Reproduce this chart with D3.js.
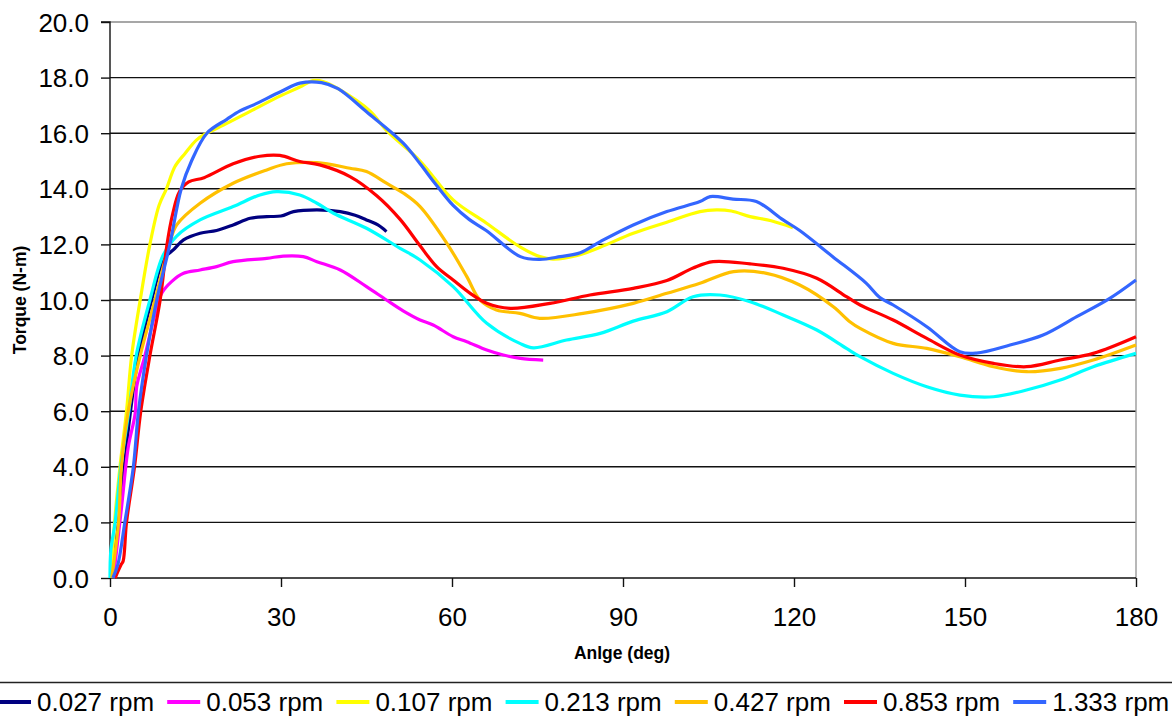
<!DOCTYPE html>
<html><head><meta charset="utf-8">
<script src="https://cdnjs.cloudflare.com/ajax/libs/d3/7.8.5/d3.min.js"></script>
<style>body{margin:0;background:#fff}svg{display:block}text{font-family:"Liberation Sans",Arial,sans-serif}</style>
</head><body>
<script>
const seriesNames = ["0.027 rpm","0.053 rpm","0.107 rpm","0.213 rpm","0.427 rpm","0.853 rpm","1.333 rpm"];
const seriesColors = ["#000080","#FF00FF","#FFFF00","#00FFFF","#FFC000","#FF0000","#3366FF"];
const xTicks = [0,30,60,90,120,150,180];
const yTicks = [0,2,4,6,8,10,12,14,16,18,20];

const ang027 = [0.3,1.5,2.5,3.6,5.0,7.3,9.5,11.1,12.9,15.8,18.7,21.6,24.6,27.5,30.0,32.2,36.3,40.4,43.0,45.0,47.0,48.5];
const tq027  = [0,2,4,6,8,10,11.5,11.8,12.16,12.4,12.5,12.7,12.94,13.0,13.02,13.18,13.24,13.18,13.05,12.88,12.7,12.46];

const ang053 = [0.6,2.0,3.2,4.4,4.7,6.1,7.9,9.1,10.8,12.9,15.8,18.7,21.6,27.5,30.4,33.9,36.3,40.4,45.0,48.5,51.5,54.4,56.7,60.2,62.6,66.1,69.0,72.0,76.0];
const tq053  = [0,2.5,4.7,5.9,6.9,7.97,9.5,10.25,10.66,10.96,11.08,11.2,11.38,11.5,11.58,11.56,11.38,11.08,10.48,10.0,9.6,9.28,9.1,8.68,8.5,8.2,8.02,7.9,7.84];

const ang107 = [0.2,0.8,1.75,2.9,3.8,5.3,7.0,8.6,9.9,11.4,13.2,15.2,17.0,20,25,30,33.3,35.6,37.5,40,45.6,48.5,54.4,60.2,66,72,75.4,77.7,82,86,91.8,97.7,103.5,106.4,109,112.3,116,119.8];
const tq107  = [0,2,4,6,8,10,12,13.4,14.0,14.8,15.28,15.76,16.0,16.3,16.83,17.35,17.66,17.89,17.85,17.6,16.8,16.1,15.0,13.6,12.77,11.9,11.56,11.47,11.6,11.9,12.4,12.8,13.18,13.24,13.2,13.0,12.85,12.6];

const ang213 = [0,0.15,0.9,1.9,3.3,4.6,7.0,9.3,11.7,15.8,21.6,26.3,29.2,33.3,36.3,39.2,45,50.9,54.4,60.2,66.1,71.9,74.3,80.1,86,91.8,97.7,102.3,107,112.3,118.1,124,129.2,131.6,137.4,143.3,149.1,155,160.8,166.7,172.5,180];
const tq213  = [0,1.0,2,4,6,8,10,11.6,12.3,12.88,13.36,13.78,13.9,13.78,13.48,13.12,12.58,11.86,11.44,10.48,9.16,8.44,8.28,8.56,8.8,9.24,9.58,10.12,10.18,9.94,9.46,8.92,8.26,7.96,7.36,6.88,6.58,6.52,6.76,7.12,7.6,8.08];

const ang427 = [0.3,1.5,2.0,3.2,5.3,7.9,10.4,11.7,15.8,21.6,27.5,31.0,36.3,42.1,45.0,48.5,51.5,54.4,59.1,62.6,64.9,67.8,71.9,75.4,83.0,91.8,97.7,103.5,109.4,115.2,121.0,126.9,129.8,131.6,137.4,143.3,149.1,155.0,160.8,166.7,172.5,180];
const tq427  = [0,2,4,6,8,10,12,12.7,13.48,14.2,14.68,14.9,14.94,14.74,14.62,14.2,13.84,13.36,12.04,10.84,10.0,9.64,9.52,9.34,9.52,9.88,10.24,10.6,11.02,10.96,10.54,9.76,9.22,8.98,8.44,8.26,7.96,7.6,7.42,7.54,7.84,8.38];

const ang853 = [0.9,2.0,2.3,2.9,4.3,5.4,7.0,8.8,10.0,11.0,12.2,13.8,16.5,21.6,26.3,29.8,33.3,36.8,42.1,46.8,50.9,54.4,57.3,60.2,63.2,66.1,70.2,77.2,84.2,91.8,97.7,102.3,105.8,112.3,118.1,124,129.2,131.6,137.4,143.3,149.1,155,160.8,166.7,172.5,180];
const tq853  = [0,0.5,0.6,2,4,6,8,10,12,13.1,13.9,14.25,14.4,14.9,15.17,15.2,14.98,14.86,14.44,13.75,12.9,11.95,11.2,10.72,10.24,9.88,9.7,9.88,10.18,10.42,10.7,11.15,11.38,11.3,11.14,10.78,10.12,9.82,9.28,8.62,8.02,7.72,7.6,7.84,8.08,8.68];

const ang1333 = [0.5,1.4,2.6,4.1,5.0,6.4,8.2,10.5,12.5,14.3,17.0,20.5,22.8,25,30,33.3,37.1,40,45,51.4,54.4,57,60.2,63,66,72,75.4,79,82.5,86,91.8,97.7,103.5,105.3,109.3,113.4,118.1,121,126.8,132.7,135,137.4,143.3,149.1,152,157.9,163.7,169.6,175.4,180];
const tq1333  = [0,0.5,2,4,6,8,10,12,14,15,16,16.5,16.8,17.0,17.5,17.8,17.82,17.6,16.77,15.65,14.9,14.2,13.4,12.9,12.5,11.56,11.46,11.56,11.7,12.1,12.7,13.18,13.54,13.72,13.63,13.54,12.88,12.5,11.56,10.6,10.1,9.82,9.04,8.14,8.09,8.38,8.74,9.4,10.06,10.72];

const seriesAngles = [ang027,ang053,ang107,ang213,ang427,ang853,ang1333];
const seriesTorques = [tq027,tq053,tq107,tq213,tq427,tq853,tq1333];

const W = 1172, H = 719;
const L = 110, R = 1136, T = 22, B = 578;
const svg = d3.select("body").append("svg").attr("width", W).attr("height", H);
const x = d3.scaleLinear().domain([0,180]).range([L,R]);
const y = d3.scaleLinear().domain([0,20]).range([B,T]);

// gridlines
svg.append("g").selectAll("line").data(yTicks.filter(v=>v>0)).join("line")
  .attr("x1", L).attr("x2", R).attr("y1", d=>y(d)).attr("y2", d=>y(d))
  .attr("stroke", d=> d===20 ? "#8a8a8a" : "#111").attr("stroke-width", 1.4);
// right border
svg.append("line").attr("x1", R).attr("x2", R).attr("y1", T).attr("y2", B)
  .attr("stroke", "#9a9a9a").attr("stroke-width", 1.4);

// y axis
const yAxis = d3.axisLeft(y).tickValues(yTicks).tickSize(9).tickFormat(d3.format(".1f"));
const gy = svg.append("g").attr("transform", `translate(${L},0)`).call(yAxis);
gy.select(".domain").attr("stroke", "#111").attr("stroke-width", 1.4).attr("d", `M-9,${T}H0V${B}`);
gy.selectAll(".tick line").attr("stroke", "#111").attr("stroke-width", 1.4);
gy.selectAll(".tick text").attr("font-size", 26).attr("fill", "#000")
  .attr("font-family", '"Liberation Sans",Arial,sans-serif').attr("x", -21).attr("dy", "0.35em");

// x axis
const xAxis = d3.axisBottom(x).tickValues(xTicks).tickSize(9).tickFormat(d3.format("d"));
const gx = svg.append("g").attr("transform", `translate(0,${B})`).call(xAxis);
gx.select(".domain").attr("stroke", "#111").attr("stroke-width", 1.6).attr("d", `M${L},0H${R}`);
gx.selectAll(".tick line").attr("stroke", "#111").attr("stroke-width", 1.4);
gx.selectAll(".tick text").attr("font-size", 26).attr("fill", "#000")
  .attr("font-family", '"Liberation Sans",Arial,sans-serif').attr("y", 30).attr("dy", "0.71em");

// lines
const line = d3.line().x(d=>x(d[0])).y(d=>y(d[1])).curve(d3.curveCatmullRom.alpha(0.5));
seriesNames.forEach((name,i)=>{
  const pts = seriesAngles[i].map((a,j)=>[a, seriesTorques[i][j]]);
  svg.append("path").datum(pts).attr("d", line)
    .attr("fill","none").attr("stroke", seriesColors[i]).attr("stroke-width", 3.2)
    .attr("stroke-linejoin","round");
});

// axis titles
svg.append("text").attr("x", 622).attr("y", 659).attr("text-anchor","middle")
  .attr("font-size", 17.5).attr("font-weight","bold").text("Anlge (deg)");
svg.append("text").attr("transform","translate(26,300) rotate(-90)").attr("text-anchor","middle")
  .attr("font-size", 17.5).attr("font-weight","bold").text("Torque (N-m)");

// legend
svg.append("line").attr("x1",0).attr("x2",W).attr("y1",682.5).attr("y2",682.5)
  .attr("stroke","#222").attr("stroke-width",1.4);
const lg = svg.append("g").selectAll("g").data(seriesNames).join("g")
  .attr("transform",(d,i)=>`translate(${-2 + i*169.2},0)`);
lg.append("line").attr("x1",0).attr("x2",33).attr("y1",702).attr("y2",702)
  .attr("stroke",(d,i)=>seriesColors[i]).attr("stroke-width",4);
lg.append("text").attr("x",39).attr("y",711).attr("font-size",26).text(d=>d);
</script>
</body></html>
